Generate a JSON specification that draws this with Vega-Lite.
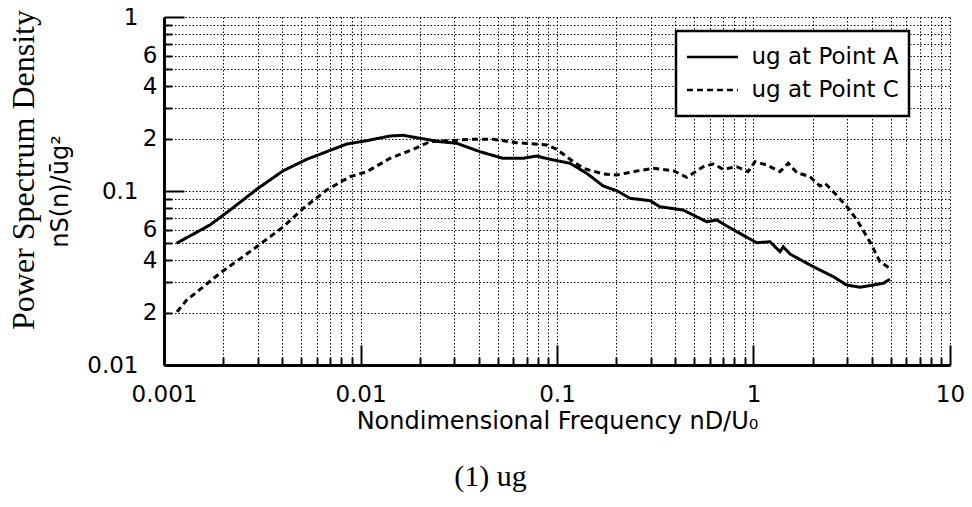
{
  "$schema": "https://vega.github.io/schema/vega-lite/v6.json",
  "width": 786,
  "height": 348,
  "autosize": {"type": "none"},
  "padding": {"left": 164, "top": 17, "right": 22, "bottom": 142},
  "background": "white",
  "title": {
    "text": "Power Spectrum Density",
    "orient": "left",
    "anchor": "middle",
    "frame": "group",
    "font": "Liberation Serif",
    "fontSize": 32,
    "fontWeight": "normal",
    "color": "black",
    "dx": 21,
    "offset": 8
  },
  "data": {
    "values": [
      {"f": 0.00116, "v": 0.0501, "series": "ug at Point A"},
      {"f": 0.001714, "v": 0.0638, "series": "ug at Point A"},
      {"f": 0.002168, "v": 0.0777, "series": "ug at Point A"},
      {"f": 0.002963, "v": 0.1023, "series": "ug at Point A"},
      {"f": 0.004047, "v": 0.1308, "series": "ug at Point A"},
      {"f": 0.005322, "v": 0.1521, "series": "ug at Point A"},
      {"f": 0.00673, "v": 0.1682, "series": "ug at Point A"},
      {"f": 0.00851, "v": 0.1863, "series": "ug at Point A"},
      {"f": 0.01076, "v": 0.1946, "series": "ug at Point A"},
      {"f": 0.01413, "v": 0.2071, "series": "ug at Point A"},
      {"f": 0.01645, "v": 0.209, "series": "ug at Point A"},
      {"f": 0.02008, "v": 0.2009, "series": "ug at Point A"},
      {"f": 0.0254, "v": 0.192, "series": "ug at Point A"},
      {"f": 0.0309, "v": 0.188, "series": "ug at Point A"},
      {"f": 0.0406, "v": 0.1682, "series": "ug at Point A"},
      {"f": 0.0531, "v": 0.1541, "series": "ug at Point A"},
      {"f": 0.0671, "v": 0.1541, "series": "ug at Point A"},
      {"f": 0.0788, "v": 0.1589, "series": "ug at Point A"},
      {"f": 0.0921, "v": 0.1521, "series": "ug at Point A"},
      {"f": 0.1165, "v": 0.1443, "series": "ug at Point A"},
      {"f": 0.1416, "v": 0.1264, "series": "ug at Point A"},
      {"f": 0.172, "v": 0.1068, "series": "ug at Point A"},
      {"f": 0.2013, "v": 0.1004, "series": "ug at Point A"},
      {"f": 0.2351, "v": 0.0908, "series": "ug at Point A"},
      {"f": 0.2974, "v": 0.088, "series": "ug at Point A"},
      {"f": 0.3343, "v": 0.0812, "series": "ug at Point A"},
      {"f": 0.4392, "v": 0.0777, "series": "ug at Point A"},
      {"f": 0.5778, "v": 0.0666, "series": "ug at Point A"},
      {"f": 0.6497, "v": 0.0681, "series": "ug at Point A"},
      {"f": 0.8213, "v": 0.0584, "series": "ug at Point A"},
      {"f": 1.038, "v": 0.0504, "series": "ug at Point A"},
      {"f": 1.213, "v": 0.0511, "series": "ug at Point A"},
      {"f": 1.364, "v": 0.0448, "series": "ug at Point A"},
      {"f": 1.418, "v": 0.0478, "series": "ug at Point A"},
      {"f": 1.534, "v": 0.0434, "series": "ug at Point A"},
      {"f": 1.939, "v": 0.0376, "series": "ug at Point A"},
      {"f": 2.097, "v": 0.0359, "series": "ug at Point A"},
      {"f": 2.547, "v": 0.0322, "series": "ug at Point A"},
      {"f": 2.981, "v": 0.0288, "series": "ug at Point A"},
      {"f": 3.483, "v": 0.028, "series": "ug at Point A"},
      {"f": 4.072, "v": 0.0288, "series": "ug at Point A"},
      {"f": 4.577, "v": 0.0295, "series": "ug at Point A"},
      {"f": 4.951, "v": 0.0311, "series": "ug at Point A"},
      {"f": 0.001165, "v": 0.0202, "series": "ug at Point C"},
      {"f": 0.001304, "v": 0.0236, "series": "ug at Point C"},
      {"f": 0.001928, "v": 0.0337, "series": "ug at Point C"},
      {"f": 0.002963, "v": 0.0478, "series": "ug at Point C"},
      {"f": 0.004047, "v": 0.0623, "series": "ug at Point C"},
      {"f": 0.005115, "v": 0.0795, "series": "ug at Point C"},
      {"f": 0.00673, "v": 0.1013, "series": "ug at Point C"},
      {"f": 0.00884, "v": 0.1208, "series": "ug at Point C"},
      {"f": 0.01076, "v": 0.1291, "series": "ug at Point C"},
      {"f": 0.01413, "v": 0.1541, "series": "ug at Point C"},
      {"f": 0.01856, "v": 0.1737, "series": "ug at Point C"},
      {"f": 0.02258, "v": 0.192, "series": "ug at Point C"},
      {"f": 0.02854, "v": 0.1946, "series": "ug at Point C"},
      {"f": 0.03608, "v": 0.1982, "series": "ug at Point C"},
      {"f": 0.04741, "v": 0.1982, "series": "ug at Point C"},
      {"f": 0.06235, "v": 0.1895, "series": "ug at Point C"},
      {"f": 0.0886, "v": 0.1838, "series": "ug at Point C"},
      {"f": 0.09966, "v": 0.1737, "series": "ug at Point C"},
      {"f": 0.1211, "v": 0.1474, "series": "ug at Point C"},
      {"f": 0.1361, "v": 0.135, "series": "ug at Point C"},
      {"f": 0.172, "v": 0.1253, "series": "ug at Point C"},
      {"f": 0.2013, "v": 0.1236, "series": "ug at Point C"},
      {"f": 0.2544, "v": 0.1302, "series": "ug at Point C"},
      {"f": 0.3091, "v": 0.135, "series": "ug at Point C"},
      {"f": 0.3907, "v": 0.1308, "series": "ug at Point C"},
      {"f": 0.4571, "v": 0.1199, "series": "ug at Point C"},
      {"f": 0.5553, "v": 0.1379, "series": "ug at Point C"},
      {"f": 0.6242, "v": 0.1429, "series": "ug at Point C"},
      {"f": 0.7019, "v": 0.1333, "series": "ug at Point C"},
      {"f": 0.8213, "v": 0.1379, "series": "ug at Point C"},
      {"f": 0.9376, "v": 0.1291, "series": "ug at Point C"},
      {"f": 1.018, "v": 0.1474, "series": "ug at Point C"},
      {"f": 1.167, "v": 0.1411, "series": "ug at Point C"},
      {"f": 1.364, "v": 0.1291, "series": "ug at Point C"},
      {"f": 1.503, "v": 0.1443, "series": "ug at Point C"},
      {"f": 1.659, "v": 0.1277, "series": "ug at Point C"},
      {"f": 1.939, "v": 0.1208, "series": "ug at Point C"},
      {"f": 2.18, "v": 0.1068, "series": "ug at Point C"},
      {"f": 2.311, "v": 0.1107, "series": "ug at Point C"},
      {"f": 2.547, "v": 0.0991, "series": "ug at Point C"},
      {"f": 2.991, "v": 0.0812, "series": "ug at Point C"},
      {"f": 3.363, "v": 0.0681, "series": "ug at Point C"},
      {"f": 3.916, "v": 0.0509, "series": "ug at Point C"},
      {"f": 4.404, "v": 0.0392, "series": "ug at Point C"},
      {"f": 4.951, "v": 0.0359, "series": "ug at Point C"}
    ]
  },
  "layer": [
    {
      "mark": {"type": "line", "color": "black", "strokeWidth": 3, "strokeCap": "butt"},
      "encoding": {
        "x": {
          "field": "f", "type": "quantitative",
          "scale": {"type": "log", "domain": [0.001, 10], "nice": false},
          "axis": {
            "title": "Nondimensional Frequency nD/U₀",
            "values": [0.001,0.002,0.003,0.004,0.005,0.006,0.007,0.008,0.009,0.01,0.02,0.03,0.04,0.05,0.06,0.07,0.08,0.09,0.1,0.2,0.3,0.4,0.5,0.6,0.7,0.8,0.9,1,2,3,4,5,6,7,8,9,10],
            "labelExpr": "datum.value==0.001?'0.001':datum.value==0.01?'0.01':datum.value==0.1?'0.1':datum.value==1?'1':datum.value==10?'10':''",
            "labelFont": "DejaVu Sans", "labelFontSize": 23, "labelColor": "black",
            "labelOverlap": false, "labelFlush": false, "labelBound": false,
            "labelPadding": 38,
            "tickSize": {"condition": {"test": "datum.value==0.001||datum.value==0.01||datum.value==0.1||datum.value==1||datum.value==10", "value": -20}, "value": -8},
            "tickColor": "black", "tickWidth": 2,
            "domainColor": "black", "domainWidth": 3,
            "grid": true, "gridColor": "black", "gridDash": [1.5, 2], "gridWidth": 1, "gridOpacity": 0.95,
            "titleFont": "DejaVu Sans", "titleFontSize": 24, "titleFontWeight": "normal", "titleColor": "black",
            "titlePadding": -9
          }
        },
        "y": {
          "field": "v", "type": "quantitative",
          "scale": {"type": "log", "domain": [0.01, 1], "nice": false},
          "axis": {
            "title": "nS(n)/ūg²",
            "titleFont": "DejaVu Sans", "titleFontSize": 24, "titleFontWeight": "normal", "titleColor": "black",
            "titlePadding": 14,
            "values": [0.01,0.02,0.03,0.04,0.05,0.06,0.07,0.08,0.09,0.1,0.2,0.3,0.4,0.5,0.6,0.7,0.8,0.9,1],
            "labelExpr": "datum.value==1?'1':datum.value==0.1?'0.1':datum.value==0.01?'0.01':(datum.value==0.02||datum.value==0.2)?'2':(datum.value==0.04||datum.value==0.4)?'4':(datum.value==0.06||datum.value==0.6)?'6':''",
            "labelFont": "DejaVu Sans", "labelFontSize": 23, "labelColor": "black",
            "labelOverlap": false, "labelFlush": false, "labelBound": false,
            "labelPadding": {"condition": {"test": "datum.value==1||datum.value==0.1||datum.value==0.01", "value": 46}, "value": 15},
            "tickSize": {"condition": {"test": "datum.value==1||datum.value==0.1||datum.value==0.01", "value": -20}, "value": -8},
            "tickColor": "black", "tickWidth": 2,
            "domainColor": "black", "domainWidth": 3,
            "grid": true, "gridColor": "black", "gridDash": [1.5, 2], "gridWidth": 1, "gridOpacity": 0.95
          }
        },
        "strokeDash": {
          "field": "series", "type": "nominal",
          "scale": {"domain": ["ug at Point A", "ug at Point C"], "range": [[1, 0], [6, 4]]},
          "legend": {
            "title": null,
            "orient": "none",
            "legendX": 512,
            "legendY": 14,
            "labelFont": "DejaVu Sans", "labelFontSize": 23, "labelColor": "black",
            "symbolType": "stroke", "symbolSize": 2601, "symbolStrokeWidth": 2.5, "symbolStrokeColor": "black",
            "clipHeight": 33,
            "strokeColor": "black", "fillColor": "white", "padding": 9.5, "rowPadding": 0, "labelOffset": 12,
            "labelLimit": 400,
            "encode": {"legend": {"update": {"strokeWidth": {"value": 2.5}}}}
          }
        }
      }
    },
    {
      "mark": {"type": "line", "opacity": 0},
      "encoding": {
        "x": {
          "field": "f", "type": "quantitative",
          "scale": {"type": "log", "domain": [0.001, 10], "nice": false},
          "axis": {
            "orient": "bottom", "labels": false, "ticks": false, "domain": false, "grid": false,
            "title": "(1)  ug",
            "titleX": 326, "titleAlign": "center",
            "titleFont": "Liberation Serif", "titleFontSize": 30, "titleFontWeight": "normal", "titleColor": "black",
            "titlePadding": 96
          }
        },
        "y": {"field": "v", "type": "quantitative", "scale": {"type": "log", "domain": [0.01, 1], "nice": false}}
      }
    }
  ],
  "resolve": {"axis": {"x": "independent"}},
  "config": {"view": {"stroke": null}, "font": "DejaVu Sans"}
}
